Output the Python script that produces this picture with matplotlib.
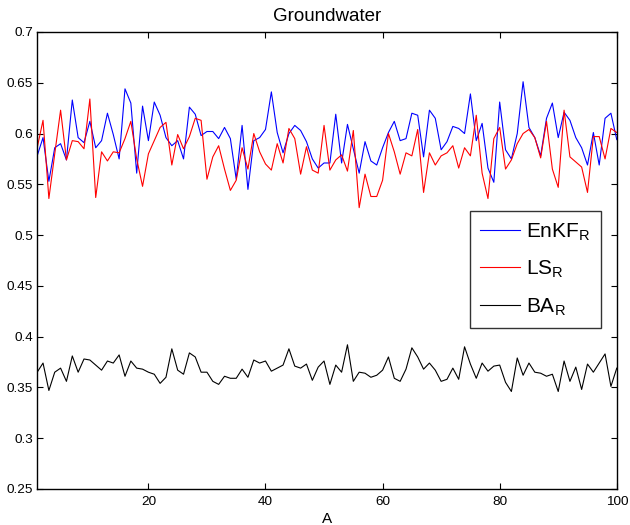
import numpy as np
import matplotlib.pyplot as plt

plt.rcParams['font.family'] = ['Liberation Sans', 'DejaVu Sans']

x = np.arange(1, 101)

enkf = [0.578, 0.596, 0.553, 0.586, 0.590, 0.574, 0.633, 0.596, 0.591, 0.612,
        0.586, 0.593, 0.620, 0.599, 0.575, 0.644, 0.630, 0.561, 0.627, 0.593,
        0.631, 0.618, 0.596, 0.588, 0.593, 0.575, 0.626, 0.619, 0.598, 0.602,
        0.602, 0.595, 0.606, 0.595, 0.555, 0.608, 0.545, 0.593, 0.596, 0.604,
        0.641, 0.601, 0.581, 0.600, 0.608, 0.603, 0.592, 0.575, 0.566, 0.571,
        0.571, 0.619, 0.571, 0.609, 0.585, 0.561, 0.592, 0.573, 0.569, 0.586,
        0.601, 0.612, 0.593, 0.595, 0.620, 0.618, 0.577, 0.623, 0.615, 0.584,
        0.592, 0.607, 0.605, 0.600, 0.639, 0.593, 0.610, 0.566, 0.552, 0.631,
        0.584, 0.575, 0.600, 0.651, 0.606, 0.596, 0.578, 0.615, 0.630, 0.596,
        0.621, 0.613, 0.596, 0.586, 0.569, 0.601, 0.569, 0.615, 0.620, 0.594]

ls = [0.586, 0.613, 0.536, 0.580, 0.623, 0.574, 0.593, 0.592, 0.585, 0.634,
      0.537, 0.582, 0.573, 0.582, 0.581, 0.595, 0.612, 0.575, 0.548, 0.580,
      0.593, 0.606, 0.611, 0.569, 0.599, 0.585, 0.597, 0.615, 0.613, 0.555,
      0.577, 0.588, 0.565, 0.544, 0.554, 0.586, 0.565, 0.600, 0.582, 0.570,
      0.564, 0.590, 0.571, 0.605, 0.595, 0.560, 0.587, 0.564, 0.561, 0.608,
      0.564, 0.574, 0.579, 0.563, 0.603, 0.527, 0.560, 0.538, 0.538, 0.554,
      0.600, 0.582, 0.560, 0.581, 0.578, 0.604, 0.542, 0.581, 0.569, 0.578,
      0.581, 0.588, 0.566, 0.586, 0.578, 0.618, 0.561, 0.536, 0.595, 0.606,
      0.565, 0.574, 0.590, 0.600, 0.604, 0.596, 0.576, 0.612, 0.565, 0.547,
      0.623, 0.577, 0.572, 0.567, 0.542, 0.597, 0.597, 0.575, 0.605, 0.601]

ba = [0.365, 0.374, 0.347, 0.365, 0.369, 0.356, 0.381, 0.365, 0.378, 0.377,
      0.372, 0.367, 0.376, 0.374, 0.382, 0.361, 0.376, 0.369, 0.368, 0.365,
      0.363, 0.354, 0.360, 0.388, 0.367, 0.363, 0.384, 0.380, 0.365, 0.365,
      0.356, 0.353, 0.361, 0.359, 0.359, 0.368, 0.360, 0.377, 0.374, 0.376,
      0.366, 0.369, 0.372, 0.388, 0.371, 0.369, 0.373, 0.357, 0.370, 0.376,
      0.353, 0.372, 0.365, 0.392, 0.356, 0.365, 0.364, 0.360, 0.362, 0.367,
      0.380, 0.359, 0.356, 0.368, 0.389, 0.380, 0.368, 0.374, 0.367, 0.356,
      0.358, 0.369, 0.358, 0.390, 0.373, 0.359, 0.374, 0.366, 0.371, 0.372,
      0.355, 0.346, 0.379, 0.362, 0.374, 0.365, 0.364, 0.361, 0.363, 0.346,
      0.376, 0.356, 0.370, 0.348, 0.373, 0.365, 0.374, 0.383, 0.351, 0.369]

labels = ['EnKF$_\\mathregular{R}$', 'LS$_\\mathregular{R}$', 'BA$_\\mathregular{R}$']
xticks = [20, 40, 60, 80, 100]
yticks = np.arange(0.25, 0.701, 0.05)

fig = plt.figure(figsize=(6.3, 5.25), dpi=100)
ax = fig.add_axes([0.059, 0.0686, 0.92, 0.8705])

ax.plot(x, enkf, color='blue', lw=0.8, label=labels[0])
ax.plot(x, ls, color='red', lw=0.8, label=labels[1])
ax.plot(x, ba, color='black', lw=0.8, label=labels[2])

ax.set_xlim(1, 100)
ax.set_ylim(0.25, 0.7)
ax.set_xticks(xticks)
ax.set_yticks(yticks)
ax.set_yticklabels(['%g' % round(v, 2) for v in yticks])
ax.tick_params(direction='in', top=True, right=True, length=4, width=0.8,
               labelsize=9.7)
ax.tick_params(axis='x', pad=5)
ax.tick_params(axis='y', pad=3)
for s in ax.spines.values():
    s.set_linewidth(1.0)

ax.set_title('Groundwater', fontsize=13.5, pad=8)
ax.set_xlabel('A', fontsize=11, labelpad=3)

leg = ax.legend(loc='upper left', bbox_to_anchor=(0.746, 0.608), borderaxespad=0,
                fontsize=15, fancybox=False, frameon=True, handlelength=1.9,
                handletextpad=0.3, labelspacing=0.75, borderpad=0.5)
leg.get_frame().set_edgecolor('black')
leg.get_frame().set_linewidth(1.0)

fig.savefig('out.png', dpi=100)
